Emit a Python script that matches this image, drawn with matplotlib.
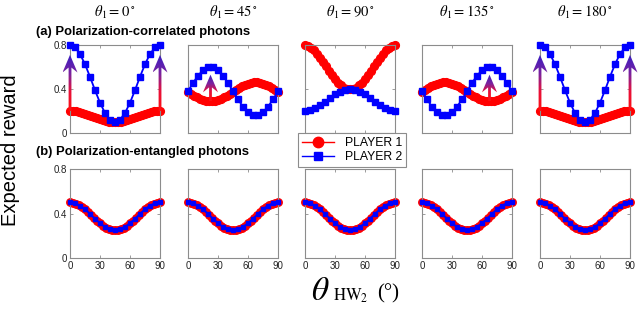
import numpy as np
import matplotlib
matplotlib.use('Agg')
import matplotlib.pyplot as plt
from matplotlib.path import Path
from matplotlib.patches import PathPatch
from matplotlib.colors import LinearSegmentedColormap
from matplotlib.lines import Line2D

plt.rcParams['mathtext.fontset'] = 'stix'
plt.rcParams['font.family'] = ['Liberation Sans', 'DejaVu Sans']

# ---------------- data ----------------
theta1_labels = ['0', '45', '90', '135', '180']
hw_red = list(range(0, 91, 3))    # player 1 sample angles (deg)
hw_blue = list(range(0, 91, 5))   # player 2 sample angles (deg)

# (a) polarization-correlated photons
corr_p1 = {
    '0':   [0.200, 0.199, 0.196, 0.191, 0.184, 0.175, 0.166, 0.155, 0.145, 0.135, 0.125, 0.117, 0.110, 0.104, 0.101, 0.100,
            0.101, 0.104, 0.110, 0.117, 0.125, 0.135, 0.145, 0.155, 0.166, 0.175, 0.184, 0.191, 0.196, 0.199, 0.200],
    '45':  [0.375, 0.357, 0.340, 0.325, 0.312, 0.301, 0.294, 0.290, 0.290, 0.294, 0.301, 0.312, 0.325, 0.340, 0.357, 0.375,
            0.393, 0.410, 0.425, 0.438, 0.449, 0.456, 0.460, 0.460, 0.456, 0.449, 0.438, 0.425, 0.410, 0.393, 0.375],
    '90':  [0.800, 0.793, 0.776, 0.750, 0.718, 0.682, 0.645, 0.605, 0.565, 0.527, 0.490, 0.458, 0.432, 0.413, 0.402, 0.398,
            0.402, 0.413, 0.432, 0.458, 0.490, 0.527, 0.565, 0.605, 0.645, 0.682, 0.718, 0.750, 0.776, 0.793, 0.800],
    '135': [0.375, 0.393, 0.410, 0.425, 0.438, 0.449, 0.456, 0.460, 0.460, 0.456, 0.449, 0.438, 0.425, 0.410, 0.393, 0.375,
            0.357, 0.340, 0.325, 0.312, 0.301, 0.294, 0.290, 0.290, 0.294, 0.301, 0.312, 0.325, 0.340, 0.357, 0.375],
    '180': [0.200, 0.199, 0.196, 0.191, 0.184, 0.175, 0.166, 0.155, 0.145, 0.135, 0.125, 0.117, 0.110, 0.104, 0.101, 0.100,
            0.101, 0.104, 0.110, 0.117, 0.125, 0.135, 0.145, 0.155, 0.166, 0.175, 0.184, 0.191, 0.196, 0.199, 0.200],
}
corr_p2 = {
    '0':   [0.800, 0.779, 0.718, 0.625, 0.511, 0.389, 0.275, 0.182, 0.121, 0.100,
            0.121, 0.182, 0.275, 0.389, 0.511, 0.625, 0.718, 0.779, 0.800],
    '45':  [0.380, 0.455, 0.521, 0.571, 0.597, 0.597, 0.571, 0.521, 0.455, 0.380,
            0.305, 0.239, 0.189, 0.163, 0.163, 0.189, 0.239, 0.305, 0.380],
    '90':  [0.200, 0.206, 0.223, 0.250, 0.283, 0.317, 0.350, 0.377, 0.394, 0.400,
            0.394, 0.377, 0.350, 0.317, 0.283, 0.250, 0.223, 0.206, 0.200],
    '135': [0.380, 0.305, 0.239, 0.189, 0.163, 0.163, 0.189, 0.239, 0.305, 0.380,
            0.455, 0.521, 0.571, 0.597, 0.597, 0.571, 0.521, 0.455, 0.380],
    '180': [0.800, 0.779, 0.718, 0.625, 0.511, 0.389, 0.275, 0.182, 0.121, 0.100,
            0.121, 0.182, 0.275, 0.389, 0.511, 0.625, 0.718, 0.779, 0.800],
}
# (b) polarization-entangled photons (same for every theta_1)
ent_p1 = [0.500, 0.497, 0.489, 0.476, 0.459, 0.438, 0.414, 0.388, 0.362, 0.336, 0.313, 0.291, 0.274, 0.261, 0.253, 0.250,
          0.253, 0.261, 0.274, 0.291, 0.313, 0.336, 0.362, 0.388, 0.414, 0.438, 0.459, 0.476, 0.489, 0.497, 0.500]
ent_p2 = [0.500, 0.493, 0.471, 0.438, 0.397, 0.353, 0.313, 0.279, 0.258, 0.250,
          0.258, 0.279, 0.313, 0.353, 0.397, 0.438, 0.471, 0.493, 0.500]

# arrows in panel (a): x position (deg) and tip value
arrows = {
    '0':   [(0, 0.71), (90, 0.71)],
    '45':  [(22.5, 0.53)],
    '90':  [],
    '135': [(67.5, 0.53)],
    '180': [(0, 0.71), (90, 0.71)],
}

xticks = [0, 30, 60, 90]
yticks = [0, 0.4, 0.8]
ytick_labels = ['0', '0.4', '0.8']

RED = '#ff0000'
BLUE = '#0000ff'
GRAY = '#8c8c8c'

arrow_cmap = LinearSegmentedColormap.from_list(
    'arr', [(0.0, '#ff1010'), (0.35, '#e8103a'), (0.65, '#7c229e'), (1.0, '#361cc4')])

W, H = 640, 311
fig = plt.figure(figsize=(6.4, 3.11), dpi=100)

lefts_px = [70, 188, 305, 422, 540]
panel_w = 90
rows = [(45, 133), (169, 258)]

# overlay axes in pixel coordinates for gradient arrows
overlay = fig.add_axes([0, 0, 1, 1], zorder=5)
overlay.axis('off')
overlay.patch.set_alpha(0)
arrow_specs = []


def arrow_polygon(x, y0, tip):
    head = 0.16
    barb = tip - head
    neck = barb + 0.045
    hw, sw = 7.5, 1.4
    return [(x, tip), (x + hw, barb), (x + sw, neck), (x + sw, y0),
            (x - sw, y0), (x - sw, neck), (x - hw, barb), (x, tip)]


def style_axes(ax, show_x, show_y):
    ax.set_xlim(0, 90)
    ax.set_ylim(0, 0.8)
    ax.set_xticks(xticks)
    ax.set_yticks(yticks)
    ax.set_yticklabels(ytick_labels)
    ax.tick_params(direction='in', top=True, right=True, length=2.5, width=0.6,
                   color=GRAY, labelsize=7, labelcolor='#222222', pad=2)
    if not show_x:
        ax.set_xticklabels([])
    if not show_y:
        ax.set_yticklabels([])
    for s in ax.spines.values():
        s.set_color(GRAY)
        s.set_linewidth(0.8)


for j, key in enumerate(theta1_labels):
    # top row
    top, bot = rows[0]
    ax = fig.add_axes([lefts_px[j] / W, 1 - bot / H, panel_w / W, (bot - top) / H])
    style_axes(ax, False, j == 0)
    ax.plot(hw_red, corr_p1[key], color=RED, marker='o', ms=5.6, mec=RED, mfc=RED,
            lw=1.0, clip_on=False, zorder=2)
    ax.plot(hw_blue, corr_p2[key], color=BLUE, marker='s', ms=3.8, mec=BLUE, mfc=BLUE,
            lw=1.3, clip_on=False, zorder=3)
    for (xa, tipv) in arrows[key]:
        idx = int(np.argmin(np.abs(np.array(hw_red) - xa)))
        verts = np.array(arrow_polygon(xa, corr_p1[key][idx], tipv))
        arrow_specs.append(ax.transData.transform(verts))

    # bottom row
    top, bot = rows[1]
    ax2 = fig.add_axes([lefts_px[j] / W, 1 - bot / H, panel_w / W, (bot - top) / H])
    style_axes(ax2, True, j == 0)
    ax2.plot(hw_red, ent_p1, color=RED, marker='o', ms=5.4, mec=RED, mfc=RED,
             lw=1.0, clip_on=False, zorder=2)
    ax2.plot(hw_blue, ent_p2, color=BLUE, marker='s', ms=2.8, mec=BLUE, mfc=BLUE,
             lw=1.4, clip_on=False, zorder=3)

    # column title
    fig.text((lefts_px[j] + panel_w / 2) / W, 1 - 12 / H,
             r'$\theta_1 = %s^\circ$' % key, ha='center', va='center', fontsize=10.5)

grad = np.linspace(0, 1, 256).reshape(-1, 1)
codes = [Path.MOVETO] + [Path.LINETO] * 6 + [Path.CLOSEPOLY]
for vpx in arrow_specs:
    patch = PathPatch(Path(vpx, codes), facecolor='none', edgecolor='none',
                      transform=overlay.transData)
    overlay.add_patch(patch)
    xmin, ymin = vpx.min(axis=0)
    xmax, ymax = vpx.max(axis=0)
    im = overlay.imshow(grad, extent=[xmin, xmax, ymin, ymax], origin='lower',
                        cmap=arrow_cmap, aspect='auto', interpolation='bilinear')
    im.set_clip_path(patch)
overlay.set_xlim(0, W)
overlay.set_ylim(0, H)

fig.text(36 / W, 1 - 32 / H, '(a) Polarization-correlated photons',
         fontsize=9.4, fontweight='bold', ha='left', va='center')
fig.text(36 / W, 1 - 152 / H, '(b) Polarization-entangled photons',
         fontsize=9.4, fontweight='bold', ha='left', va='center')

fig.text(11 / W, 1 - 150 / H, 'Expected reward', rotation=90, fontsize=14.5,
         ha='center', va='center')

# x label
fig.text(320 / W, 1 - 300 / H, r'$\theta$', fontsize=24, ha='center', va='baseline')
fig.text(333 / W, 1 - 301 / H, r'$\mathrm{HW}_{2}$', fontsize=12, ha='left', va='baseline')
fig.text(377 / W, 1 - 298 / H, '(°)', fontsize=15, ha='left', va='baseline',
         family='Liberation Serif')

handles = [Line2D([], [], color=RED, marker='o', ms=7.5, mec=RED, mfc=RED, lw=1.0),
           Line2D([], [], color=BLUE, marker='s', ms=6, mec=BLUE, mfc=BLUE, lw=1.0)]
leg = fig.legend(handles, ['PLAYER 1', 'PLAYER 2'], loc='center',
                 bbox_to_anchor=(352 / W, 1 - 150 / H), fontsize=8.8, frameon=True,
                 fancybox=False, framealpha=1, edgecolor=GRAY, handlelength=2.6,
                 borderpad=0.3, labelspacing=0.2, handletextpad=0.9)
leg.get_frame().set_linewidth(0.8)
leg.set_zorder(10)

fig.savefig('out.png', dpi=100)
